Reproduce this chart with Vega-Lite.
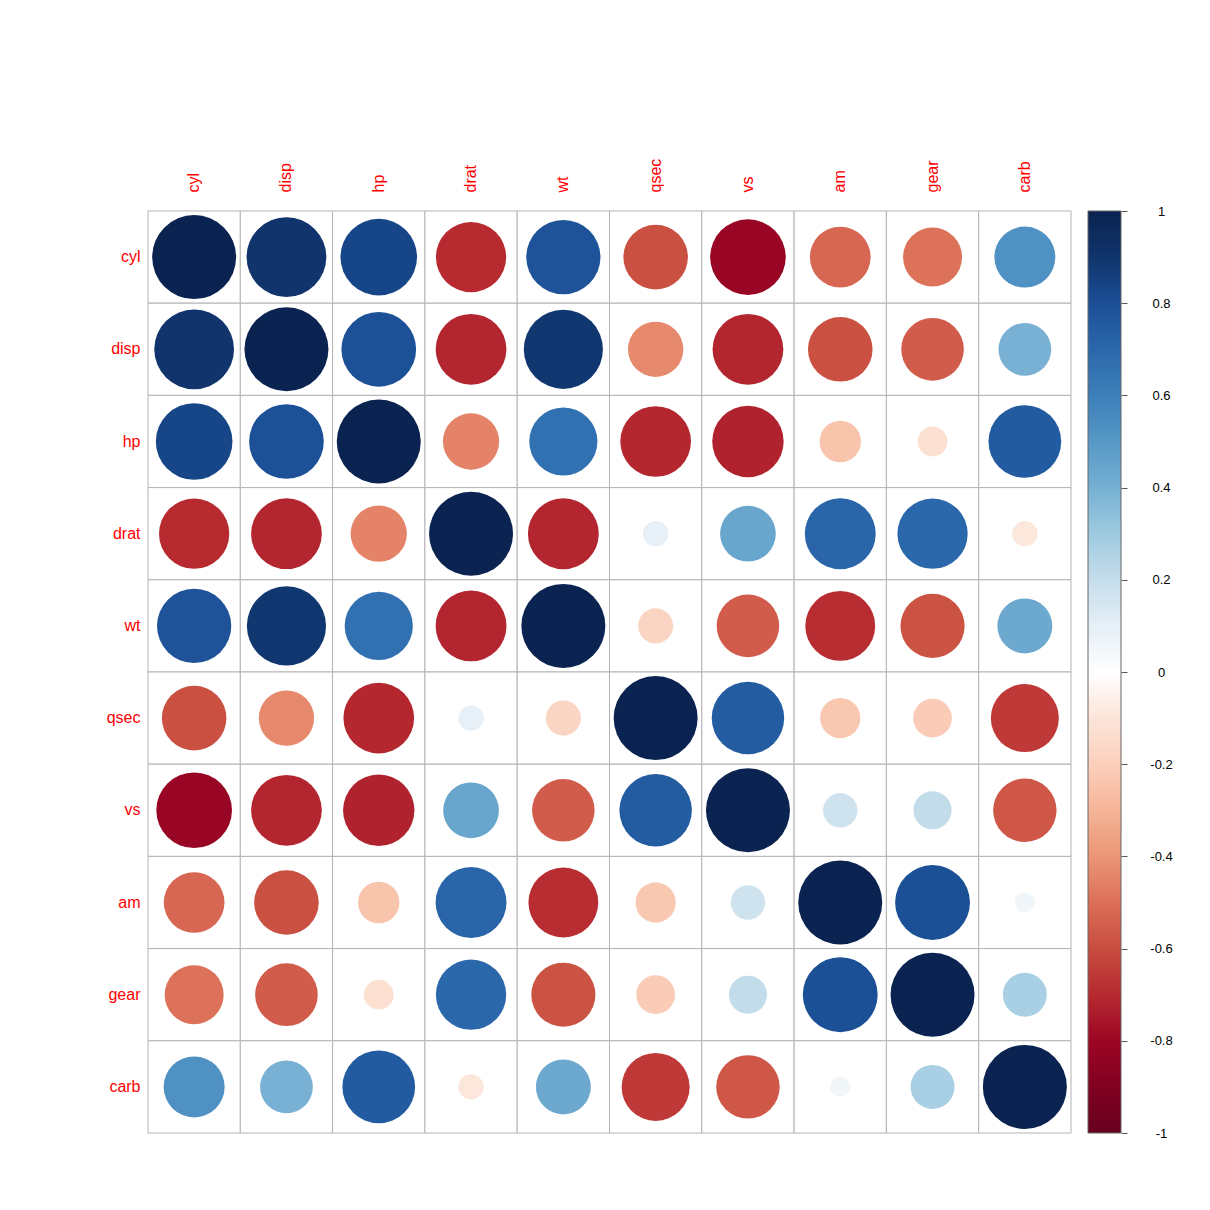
{
  "$schema": "https://vega.github.io/schema/vega-lite/v6.json",
  "autosize": {"type": "pad"},
  "padding": {"left": 106, "top": 158, "right": 10, "bottom": 10},
  "background": "white",
  "config": {"view": {"stroke": null}, "font": "Liberation Sans"},
  "bounds": "flush",
  "spacing": 17,
  "hconcat": [
    {
      "width": 923,
      "height": 922,
      "data": {"values": [
        {"row":"cyl","col":"cyl","r":1,"a":1},{"row":"cyl","col":"disp","r":0.902,"a":0.902},{"row":"cyl","col":"hp","r":0.832,"a":0.832},{"row":"cyl","col":"drat","r":-0.700,"a":0.700},{"row":"cyl","col":"wt","r":0.782,"a":0.782},{"row":"cyl","col":"qsec","r":-0.591,"a":0.591},{"row":"cyl","col":"vs","r":-0.811,"a":0.811},{"row":"cyl","col":"am","r":-0.523,"a":0.523},{"row":"cyl","col":"gear","r":-0.493,"a":0.493},{"row":"cyl","col":"carb","r":0.527,"a":0.527},
        {"row":"disp","col":"cyl","r":0.902,"a":0.902},{"row":"disp","col":"disp","r":1,"a":1},{"row":"disp","col":"hp","r":0.791,"a":0.791},{"row":"disp","col":"drat","r":-0.710,"a":0.710},{"row":"disp","col":"wt","r":0.888,"a":0.888},{"row":"disp","col":"qsec","r":-0.434,"a":0.434},{"row":"disp","col":"vs","r":-0.710,"a":0.710},{"row":"disp","col":"am","r":-0.591,"a":0.591},{"row":"disp","col":"gear","r":-0.556,"a":0.556},{"row":"disp","col":"carb","r":0.395,"a":0.395},
        {"row":"hp","col":"cyl","r":0.832,"a":0.832},{"row":"hp","col":"disp","r":0.791,"a":0.791},{"row":"hp","col":"hp","r":1,"a":1},{"row":"hp","col":"drat","r":-0.449,"a":0.449},{"row":"hp","col":"wt","r":0.659,"a":0.659},{"row":"hp","col":"qsec","r":-0.708,"a":0.708},{"row":"hp","col":"vs","r":-0.723,"a":0.723},{"row":"hp","col":"am","r":-0.243,"a":0.243},{"row":"hp","col":"gear","r":-0.126,"a":0.126},{"row":"hp","col":"carb","r":0.750,"a":0.750},
        {"row":"drat","col":"cyl","r":-0.700,"a":0.700},{"row":"drat","col":"disp","r":-0.710,"a":0.710},{"row":"drat","col":"hp","r":-0.449,"a":0.449},{"row":"drat","col":"drat","r":1,"a":1},{"row":"drat","col":"wt","r":-0.712,"a":0.712},{"row":"drat","col":"qsec","r":0.091,"a":0.091},{"row":"drat","col":"vs","r":0.440,"a":0.440},{"row":"drat","col":"am","r":0.713,"a":0.713},{"row":"drat","col":"gear","r":0.700,"a":0.700},{"row":"drat","col":"carb","r":-0.091,"a":0.091},
        {"row":"wt","col":"cyl","r":0.782,"a":0.782},{"row":"wt","col":"disp","r":0.888,"a":0.888},{"row":"wt","col":"hp","r":0.659,"a":0.659},{"row":"wt","col":"drat","r":-0.712,"a":0.712},{"row":"wt","col":"wt","r":1,"a":1},{"row":"wt","col":"qsec","r":-0.175,"a":0.175},{"row":"wt","col":"vs","r":-0.555,"a":0.555},{"row":"wt","col":"am","r":-0.692,"a":0.692},{"row":"wt","col":"gear","r":-0.583,"a":0.583},{"row":"wt","col":"carb","r":0.428,"a":0.428},
        {"row":"qsec","col":"cyl","r":-0.591,"a":0.591},{"row":"qsec","col":"disp","r":-0.434,"a":0.434},{"row":"qsec","col":"hp","r":-0.708,"a":0.708},{"row":"qsec","col":"drat","r":0.091,"a":0.091},{"row":"qsec","col":"wt","r":-0.175,"a":0.175},{"row":"qsec","col":"qsec","r":1,"a":1},{"row":"qsec","col":"vs","r":0.745,"a":0.745},{"row":"qsec","col":"am","r":-0.230,"a":0.230},{"row":"qsec","col":"gear","r":-0.213,"a":0.213},{"row":"qsec","col":"carb","r":-0.656,"a":0.656},
        {"row":"vs","col":"cyl","r":-0.811,"a":0.811},{"row":"vs","col":"disp","r":-0.710,"a":0.710},{"row":"vs","col":"hp","r":-0.723,"a":0.723},{"row":"vs","col":"drat","r":0.440,"a":0.440},{"row":"vs","col":"wt","r":-0.555,"a":0.555},{"row":"vs","col":"qsec","r":0.745,"a":0.745},{"row":"vs","col":"vs","r":1,"a":1},{"row":"vs","col":"am","r":0.168,"a":0.168},{"row":"vs","col":"gear","r":0.206,"a":0.206},{"row":"vs","col":"carb","r":-0.570,"a":0.570},
        {"row":"am","col":"cyl","r":-0.523,"a":0.523},{"row":"am","col":"disp","r":-0.591,"a":0.591},{"row":"am","col":"hp","r":-0.243,"a":0.243},{"row":"am","col":"drat","r":0.713,"a":0.713},{"row":"am","col":"wt","r":-0.692,"a":0.692},{"row":"am","col":"qsec","r":-0.230,"a":0.230},{"row":"am","col":"vs","r":0.168,"a":0.168},{"row":"am","col":"am","r":1,"a":1},{"row":"am","col":"gear","r":0.794,"a":0.794},{"row":"am","col":"carb","r":0.058,"a":0.058},
        {"row":"gear","col":"cyl","r":-0.493,"a":0.493},{"row":"gear","col":"disp","r":-0.556,"a":0.556},{"row":"gear","col":"hp","r":-0.126,"a":0.126},{"row":"gear","col":"drat","r":0.700,"a":0.700},{"row":"gear","col":"wt","r":-0.583,"a":0.583},{"row":"gear","col":"qsec","r":-0.213,"a":0.213},{"row":"gear","col":"vs","r":0.206,"a":0.206},{"row":"gear","col":"am","r":0.794,"a":0.794},{"row":"gear","col":"gear","r":1,"a":1},{"row":"gear","col":"carb","r":0.274,"a":0.274},
        {"row":"carb","col":"cyl","r":0.527,"a":0.527},{"row":"carb","col":"disp","r":0.395,"a":0.395},{"row":"carb","col":"hp","r":0.750,"a":0.750},{"row":"carb","col":"drat","r":-0.091,"a":0.091},{"row":"carb","col":"wt","r":0.428,"a":0.428},{"row":"carb","col":"qsec","r":-0.656,"a":0.656},{"row":"carb","col":"vs","r":-0.570,"a":0.570},{"row":"carb","col":"am","r":0.058,"a":0.058},{"row":"carb","col":"gear","r":0.274,"a":0.274},{"row":"carb","col":"carb","r":1,"a":1}
      ]},
      "encoding": {
        "x": {"field": "col", "type": "nominal",
          "sort": ["cyl","disp","hp","drat","wt","qsec","vs","am","gear","carb"],
          "scale": {"paddingInner": 0, "paddingOuter": 0},
          "axis": {"orient": "top", "title": null, "domain": false, "ticks": false, "tickSize": 0,
            "labelAngle": -90, "labelAlign": "left", "labelBaseline": "middle", "labelPadding": 19,
            "labelColor": "#ff0000", "labelFontSize": 16, "labelFont": "Liberation Sans"}},
        "y": {"field": "row", "type": "nominal",
          "sort": ["cyl","disp","hp","drat","wt","qsec","vs","am","gear","carb"],
          "scale": {"paddingInner": 0, "paddingOuter": 0},
          "axis": {"orient": "left", "title": null, "domain": false, "ticks": false, "tickSize": 0,
            "labelPadding": 8, "labelColor": "#ff0000", "labelFontSize": 16, "labelFont": "Liberation Sans"}}
      },
      "layer": [
        {"mark": {"type": "rect", "fill": "white", "stroke": "#b3b3b3", "strokeWidth": 1}},
        {"mark": {"type": "circle", "opacity": 1, "stroke": null},
          "encoding": {
            "size": {"field": "a", "type": "quantitative", "scale": {"domain": [0, 1], "range": [0, 7056], "zero": true}, "legend": null},
            "color": {"field": "r", "type": "quantitative",
              "scale": {"domain": [-1,-0.9,-0.8,-0.7,-0.6,-0.5,-0.4,-0.3,-0.2,-0.1,0,0.1,0.2,0.3,0.4,0.5,0.6,0.7,0.8,0.9,1],
                "range": ["#67001f","#800020","#9c0624","#b62a30","#c84d40","#dc6f58","#eb9676","#f5b497","#fbd0bc","#fce5da","#ffffff","#e5eff6","#c5ddeb","#9ecae0","#76b0d3","#5698c6","#3d7fb9","#2b68ab","#1b4e95","#10346c","#0a2350"],
                "interpolate": "rgb"},
              "legend": null}
          }}
      ]
    },
    {
      "width": 33,
      "height": 922,
      "data": {"values": [{"lo": -1, "hi": 1}]},
      "mark": {"type": "rect", "stroke": "#666666", "strokeWidth": 1,
        "fill": {"gradient": "linear", "x1": 0, "y1": 1, "x2": 0, "y2": 0,
          "stops": [
            {"offset": 0, "color": "#67001f"},{"offset": 0.05, "color": "#800020"},{"offset": 0.1, "color": "#9c0624"},{"offset": 0.15, "color": "#b62a30"},{"offset": 0.2, "color": "#c84d40"},{"offset": 0.25, "color": "#dc6f58"},{"offset": 0.3, "color": "#eb9676"},{"offset": 0.35, "color": "#f5b497"},{"offset": 0.4, "color": "#fbd0bc"},{"offset": 0.45, "color": "#fce5da"},{"offset": 0.5, "color": "#ffffff"},{"offset": 0.55, "color": "#e5eff6"},{"offset": 0.6, "color": "#c5ddeb"},{"offset": 0.65, "color": "#9ecae0"},{"offset": 0.7, "color": "#76b0d3"},{"offset": 0.75, "color": "#5698c6"},{"offset": 0.8, "color": "#3d7fb9"},{"offset": 0.85, "color": "#2b68ab"},{"offset": 0.9, "color": "#1b4e95"},{"offset": 0.95, "color": "#10346c"},{"offset": 1, "color": "#0a2350"}
          ]}},
      "encoding": {
        "y": {"field": "lo", "type": "quantitative",
          "scale": {"domain": [-1, 1], "nice": false, "zero": false},
          "axis": {"orient": "right", "title": null, "domain": false, "grid": false,
            "values": [-1,-0.8,-0.6,-0.4,-0.2,0,0.2,0.4,0.6,0.8,1],
            "labelExpr": "toString(datum.value)", "labelFlush": false, "labelOverlap": false,
            "tickSize": 6, "tickColor": "#555555", "tickWidth": 1,
            "labelAlign": "center", "labelBaseline": "middle", "labelPadding": 34,
            "labelFontSize": 13, "labelFont": "Liberation Sans", "labelColor": "#000000"}},
        "y2": {"field": "hi"}
      }
    }
  ]
}
